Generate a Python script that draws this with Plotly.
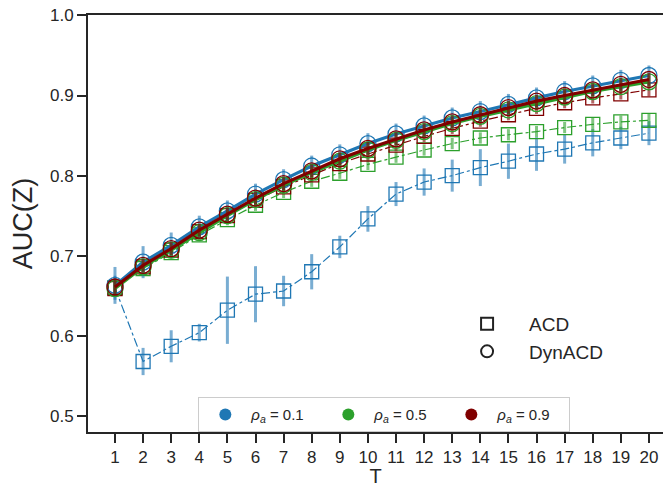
import plotly.graph_objects as go

T = list(range(1, 21))

# DynACD (circles, solid)
dyn_01 = [0.663, 0.692, 0.713, 0.736, 0.756, 0.777, 0.795, 0.812, 0.826, 0.840,
          0.852, 0.862, 0.872, 0.880, 0.889, 0.897, 0.905, 0.912, 0.919, 0.925]
dyn_05 = [0.659, 0.686, 0.707, 0.729, 0.750, 0.770, 0.788, 0.804, 0.818, 0.832,
          0.844, 0.855, 0.865, 0.874, 0.882, 0.890, 0.898, 0.905, 0.911, 0.917]
dyn_09 = [0.661, 0.688, 0.709, 0.732, 0.752, 0.772, 0.790, 0.806, 0.821, 0.834,
          0.846, 0.857, 0.867, 0.876, 0.885, 0.893, 0.900, 0.907, 0.914, 0.920]
dyn_01_err = [0.023, 0.020, 0.016, 0.014, 0.013, 0.013, 0.013, 0.013, 0.013, 0.013,
              0.013, 0.013, 0.013, 0.013, 0.013, 0.013, 0.013, 0.013, 0.013, 0.0125]
dyn_05_err = [0.010, 0.008, 0.008, 0.008, 0.008, 0.008, 0.008, 0.008, 0.008, 0.008,
              0.008, 0.008, 0.008, 0.008, 0.008, 0.008, 0.008, 0.008, 0.008, 0.008]
dyn_09_err = [0.010, 0.008, 0.008, 0.008, 0.008, 0.008, 0.008, 0.008, 0.008, 0.008,
              0.008, 0.008, 0.008, 0.008, 0.008, 0.008, 0.008, 0.008, 0.008, 0.008]

# ACD (squares, dash-dot)
acd_01 = [0.660, 0.568, 0.587, 0.604, 0.632, 0.652, 0.656, 0.680, 0.711, 0.746,
          0.777, 0.792, 0.800, 0.810, 0.818, 0.827, 0.833, 0.841, 0.847, 0.853]
acd_05 = [0.660, 0.684, 0.704, 0.726, 0.745, 0.763, 0.779, 0.793, 0.803, 0.814,
          0.823, 0.832, 0.840, 0.847, 0.851, 0.855, 0.860, 0.864, 0.867, 0.869]
acd_09 = [0.659, 0.686, 0.707, 0.730, 0.750, 0.769, 0.786, 0.801, 0.815, 0.827,
          0.838, 0.849, 0.859, 0.868, 0.876, 0.884, 0.891, 0.897, 0.902, 0.907]
acd_01_err = [0.015, 0.017, 0.020, 0.011, 0.042, 0.035, 0.019, 0.022, 0.014, 0.016,
              0.015, 0.017, 0.020, 0.023, 0.022, 0.021, 0.018, 0.017, 0.014, 0.015]
acd_05_err = [0.008, 0.007, 0.007, 0.007, 0.007, 0.007, 0.007, 0.007, 0.007, 0.007,
              0.007, 0.007, 0.007, 0.007, 0.007, 0.007, 0.007, 0.008, 0.008, 0.009]
acd_09_err = [0.008, 0.007, 0.007, 0.007, 0.007, 0.007, 0.007, 0.007, 0.007, 0.007,
              0.007, 0.007, 0.007, 0.007, 0.007, 0.007, 0.007, 0.007, 0.007, 0.008]

rho_labels = ["0.1", "0.5", "0.9"]
y_ticks = [0.5, 0.6, 0.7, 0.8, 0.9, 1.0]
y_ticktext = ["0.5", "0.6", "0.7", "0.8", "0.9", "1.0"]
colors = ["#1f77b4", "#2ca02c", "#800000"]
err_colors = ["rgba(31,119,180,0.6)", "rgba(44,160,44,0.6)", "rgba(128,0,0,0.6)"]

fig = go.Figure()

acd_sets = [(acd_01, acd_01_err), (acd_05, acd_05_err), (acd_09, acd_09_err)]
dyn_sets = [(dyn_01, dyn_01_err), (dyn_05, dyn_05_err), (dyn_09, dyn_09_err)]

for (vals, errs), c, ec in zip(acd_sets, colors, err_colors):
    fig.add_trace(go.Scatter(
        x=T, y=vals, mode="lines+markers", showlegend=False,
        line=dict(color=c, width=1.2, dash="dashdot"),
        marker=dict(symbol="square-open", size=14, color=c, line=dict(width=1.3, color=c)),
        error_y=dict(type="data", array=errs, color=ec, thickness=3, width=0),
    ))

for (vals, errs), c, ec in zip(dyn_sets, colors, err_colors):
    fig.add_trace(go.Scatter(
        x=T, y=vals, mode="lines+markers", showlegend=False,
        line=dict(color=c, width=3.2),
        marker=dict(symbol="circle-open", size=16, color=c, line=dict(width=1.3, color=c)),
        error_y=dict(type="data", array=errs, color=ec, thickness=3, width=0),
    ))

# legend 1: colors
for lab, c in zip(rho_labels, colors):
    fig.add_trace(go.Scatter(
        x=[None], y=[None], mode="markers", legend="legend",
        name=f"<i>ρ<sub>a</sub></i> = {lab}",
        marker=dict(symbol="circle", size=14, color=c),
    ))

# legend 2: methods
for name, sym in [("ACD", "square-open"), ("DynACD", "circle-open")]:
    fig.add_trace(go.Scatter(
        x=[None], y=[None], mode="markers", legend="legend2", name=name,
        marker=dict(symbol=sym, size=15, color="#222222", line=dict(width=1.2, color="#222222")),
    ))

axis_common = dict(
    showline=True, linecolor="#262626", linewidth=2, automargin=False,
    ticks="outside", ticklen=9, tickwidth=1.8, tickcolor="#262626",
    showgrid=False, zeroline=False, ticklabeloverflow="allow",
    tickfont=dict(family="Liberation Sans, Arial", size=17, color="#262626"),
)

fig.update_layout(
    width=663, height=487,
    margin=dict(l=88, r=0, t=15, b=55),
    plot_bgcolor="white", paper_bgcolor="white",
    font=dict(family="Liberation Sans, Arial", color="#262626"),
    xaxis=dict(range=[0.04, 20.5], tickmode="array", tickvals=T, mirror=True,
               title=dict(text="T", font=dict(size=20), standoff=23), **axis_common),
    yaxis=dict(range=[0.48, 1.0005], tickmode="array", mirror=False,
               tickvals=y_ticks, ticktext=y_ticktext,
               title=dict(text="AUC(Z)", font=dict(size=27), standoff=10), **axis_common),
    legend=dict(orientation="h", x=0.515, xanchor="center", y=0.0, yanchor="bottom",
                bordercolor="#cccccc", borderwidth=1.2, bgcolor="white",
                font=dict(size=15), entrywidth=66, itemwidth=42, itemsizing="constant"),
    legend2=dict(orientation="v", x=0.621, xanchor="left", y=0.305, yanchor="top",
                 bgcolor="rgba(0,0,0,0)", borderwidth=0, itemwidth=74,
                 font=dict(size=19), itemsizing="constant"),
)

fig.write_html("out.html", config={"displayModeBar": False},
               post_script="document.body.style.margin='0';")
